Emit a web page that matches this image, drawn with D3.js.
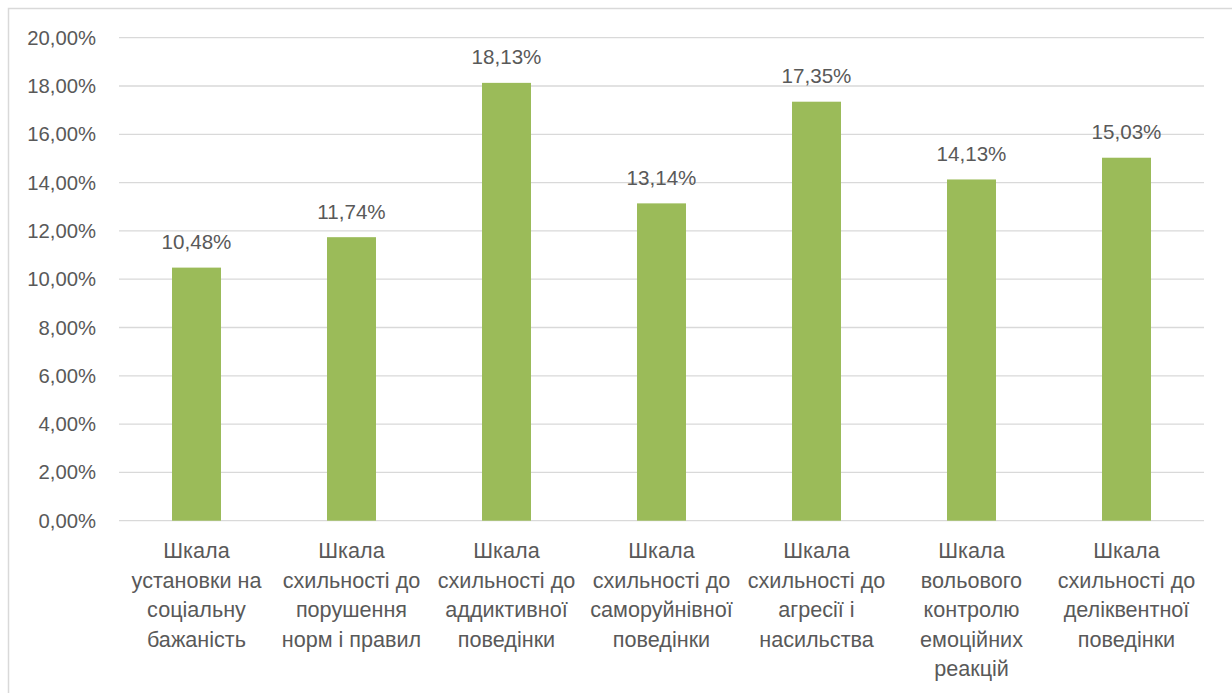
<!DOCTYPE html>
<html><head><meta charset="utf-8">
<script src="https://cdn.jsdelivr.net/npm/d3@7"></script>
<style>
html,body{margin:0;padding:0;background:#fff;}
svg{display:block;}
text{font-family:"Liberation Sans",Arial,sans-serif;fill:#595959;}
</style></head><body>
<svg id="chart" width="1232" height="693"></svg>
<script>
const categories = [
  ["Шкала","установки на","соціальну","бажаність"],
  ["Шкала","схильності до","порушення","норм і правил"],
  ["Шкала","схильності до","аддиктивної","поведінки"],
  ["Шкала","схильності до","саморуйнівної","поведінки"],
  ["Шкала","схильності до","агресії і","насильства"],
  ["Шкала","вольового","контролю","емоційних","реакцій"],
  ["Шкала","схильності до","деліквентної","поведінки"]
];
const values = [10.48, 11.74, 18.13, 13.14, 17.35, 14.13, 15.03];
const yTicks = [0,2,4,6,8,10,12,14,16,18,20];
const fmt = v => v.toFixed(2).replace(".", ",") + "%";

const svg = d3.select("#chart");
svg.append("rect").attr("x",8.5).attr("y",8.5).attr("width",1240).attr("height",700)
  .attr("fill","none").attr("stroke","#D9D9D9").attr("stroke-width",1.5);

const pLeft = 119, pRight = 1204, pTop = 37.7, pBottom = 520.7;
const x = d3.scaleBand().domain(d3.range(categories.length)).range([pLeft,pRight]).paddingInner(0.684).paddingOuter(0.342);
const y = d3.scaleLinear().domain([0,20]).range([pBottom,pTop]);

// gridlines
svg.append("g").selectAll("line").data(yTicks).join("line")
  .attr("x1",pLeft).attr("x2",pRight)
  .attr("y1",d=>y(d)).attr("y2",d=>y(d))
  .attr("stroke","#D9D9D9").attr("stroke-width",1.3);

// y axis labels
const yAxis = d3.axisLeft(y).tickValues(yTicks).tickFormat(d=>fmt(d)).tickSize(0).tickPadding(23);
const gy = svg.append("g").attr("transform",`translate(${pLeft},0)`).call(yAxis);
gy.select(".domain").remove();
gy.selectAll("text").attr("font-size",20.3).attr("fill","#595959").attr("font-family","Liberation Sans, Arial, sans-serif");

// bars
svg.append("g").selectAll("rect").data(values).join("rect")
  .attr("x",(d,i)=>x(i)).attr("width",x.bandwidth())
  .attr("y",d=>y(d)).attr("height",d=>y(0)-y(d))
  .attr("fill","#9BBB59");

// value labels
svg.append("g").selectAll("text").data(values).join("text")
  .attr("x",(d,i)=>x(i)+x.bandwidth()/2).attr("y",d=>y(d)-18.5)
  .attr("text-anchor","middle").attr("font-size",20.6).text(d=>fmt(d));

// category labels
const cg = svg.append("g").selectAll("text").data(categories).join("text")
  .attr("text-anchor","middle").attr("font-size",21.6)
  .attr("transform",(d,i)=>`translate(${x(i)+x.bandwidth()/2},0)`);
cg.selectAll("tspan").data(d=>d).join("tspan")
  .attr("x",0).attr("y",(d,j)=>558.3+j*29.5).text(d=>d);
</script>
</body></html>
